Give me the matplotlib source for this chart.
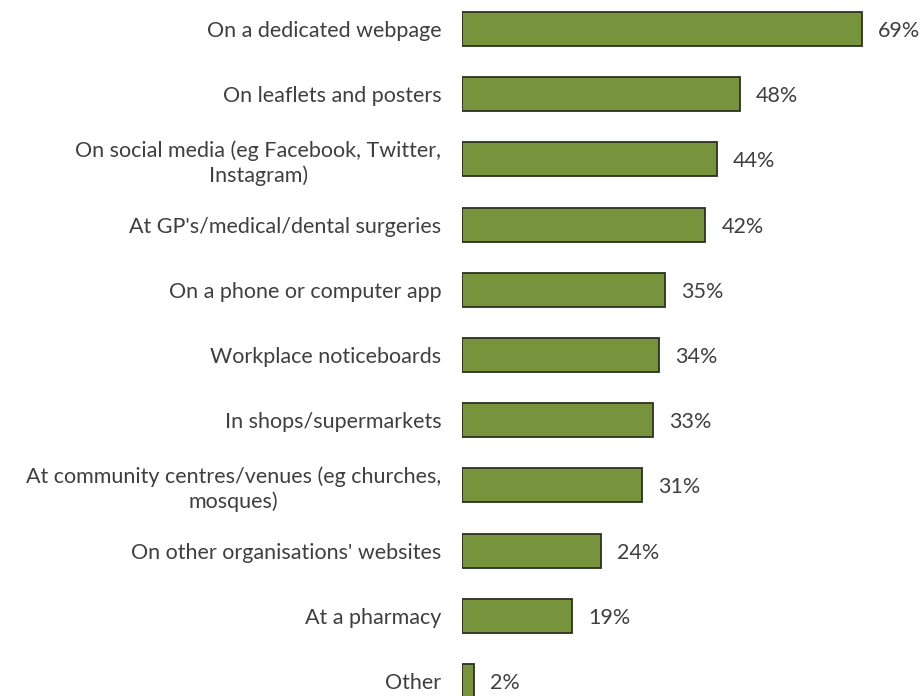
import matplotlib.pyplot as plt

# Where people would look for information (share of respondents)
categories = [
    "On a dedicated webpage",
    "On leaflets and posters",
    "On social media (eg Facebook, Twitter,\nInstagram)",
    "At GP's/medical/dental surgeries",
    "On a phone or computer app",
    "Workplace noticeboards",
    "In shops/supermarkets",
    "At community centres/venues (eg churches,\nmosques)",
    "On other organisations' websites",
    "At a pharmacy",
    "Other",
]
values = [69, 48, 44, 42, 35, 34, 33, 31, 24, 19, 2]

plt.rcParams['font.family'] = ['Lato', 'DejaVu Sans']
text_color = '#3f3f3f'
fs = 15.5

fig = plt.figure(figsize=(9.23, 6.96), dpi=100)
ax = fig.add_axes([462 / 923, 0, 1 - 462 / 923, 1])

pos = list(range(len(categories)))
ax.barh(pos, values, height=0.52, color='#77933C', edgecolor='#2b3320', linewidth=1.3)

for p, v in zip(pos, values):
    ax.text(v + 2.8, p + 0.03, f"{v}%", va='center', ha='left', fontsize=fs, color=text_color)

ax.set_yticks(pos)
ax.set_yticklabels(categories, fontsize=fs, color=text_color, linespacing=1.25,
                   multialignment='center')
ax.tick_params(axis='y', length=0, pad=15)
ax.set_xticks([])
ax.set_xlim(0, 79.6)
ax.set_ylim(len(categories) - 1 + 0.23, -0.445)
for side in ax.spines.values():
    side.set_visible(False)

plt.savefig('out.png', dpi=100)
